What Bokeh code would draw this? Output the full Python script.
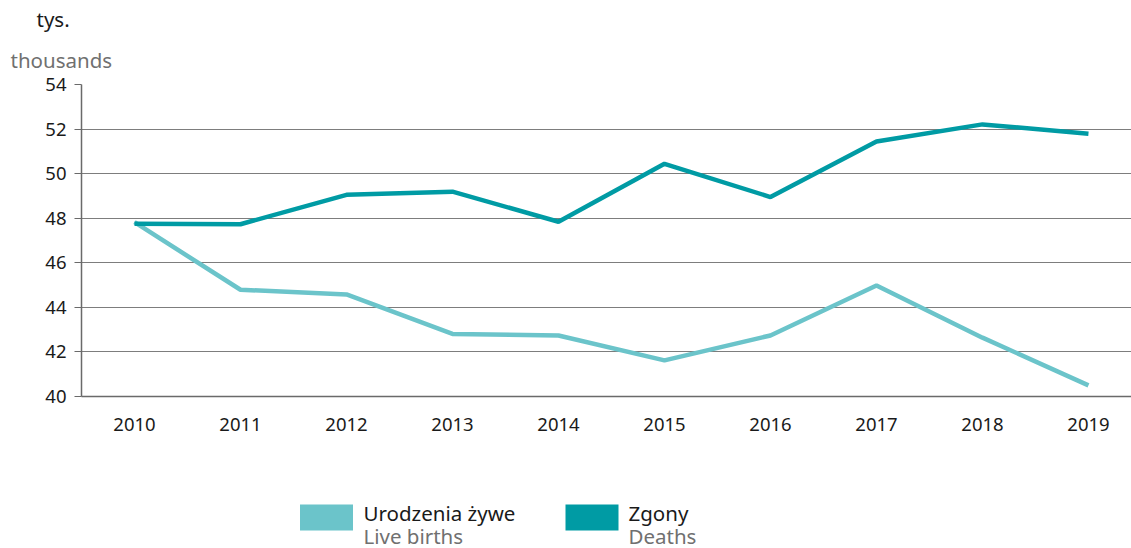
from bokeh.plotting import figure
from bokeh.models import Range1d, FixedTicker, Title
from bokeh.layouts import column
from bokeh.embed import file_html
from bokeh.resources import INLINE
from bokeh.core.properties import value

# ---- data ----
years = [2010, 2011, 2012, 2013, 2014, 2015, 2016, 2017, 2018, 2019]
live_births = [47.82, 44.79, 44.58, 42.81, 42.74, 41.62, 42.74, 44.98, 42.64, 40.50]
deaths = [47.75, 47.73, 49.05, 49.19, 47.84, 50.44, 48.95, 51.44, 52.21, 51.79]
y_ticks = [40, 42, 44, 46, 48, 50, 52, 54]
unit_pl = "tys."
unit_en = "thousands"
series_pl = ["Urodzenia żywe", "Zgony"]
series_en = ["Live births", "Deaths"]
colors = ["#6BC4CA", "#009BA4"]

FONT = "Noto Sans"
TXT = "#1a1a1a"
GREY = "#707070"
W = 1131
LEFT = 81

# ---- main chart ----
p = figure(width=W, height=448, output_backend="svg", toolbar_location=None,
           x_range=Range1d(2009.5, 2019.406), y_range=Range1d(40, 54),
           min_border_left=LEFT, min_border_right=0, min_border_top=84, min_border_bottom=52)
p.outline_line_color = None
p.background_fill_color = "white"
p.border_fill_color = "white"

# unit header as stacked titles (first added sits closest to the frame)
p.add_layout(Title(text=unit_en, align="left", offset=-71, standoff=22,
                   text_font=FONT, text_font_size="20.5px", text_color=GREY,
                   text_font_style="normal"), "above")
p.add_layout(Title(text=unit_pl, align="left", offset=-45, standoff=0,
                   text_font=FONT, text_font_size="20.5px", text_color=TXT,
                   text_font_style="normal"), "above")

p.xgrid.grid_line_color = None
p.ygrid.ticker = FixedTicker(ticks=y_ticks)
p.ygrid.grid_line_color = "#7d7d7d"
p.ygrid.grid_line_width = 1.2

p.yaxis.ticker = FixedTicker(ticks=y_ticks)
p.yaxis.axis_line_color = "#6a6a6a"
p.yaxis.axis_line_width = 1.5
p.yaxis.major_tick_line_color = "#6a6a6a"
p.yaxis.major_tick_line_width = 1.2
p.yaxis.major_tick_out = 7
p.yaxis.major_tick_in = 0
p.yaxis.minor_tick_line_color = None
p.yaxis.major_label_text_font = FONT
p.yaxis.major_label_text_font_size = "18.5px"
p.yaxis.major_label_text_color = TXT
p.yaxis.major_label_standoff = 8

p.xaxis.ticker = FixedTicker(ticks=years)
p.xaxis.axis_line_color = "#6a6a6a"
p.xaxis.axis_line_width = 1.5
p.xaxis.major_tick_line_color = None
p.xaxis.minor_tick_line_color = None
p.xaxis.major_label_text_font = FONT
p.xaxis.major_label_text_font_size = "18.5px"
p.xaxis.major_label_text_color = TXT
p.xaxis.major_label_standoff = 15

p.line(years, live_births, line_color=colors[0], line_width=4.5)
p.line(years, deaths, line_color=colors[1], line_width=4.5)

# ---- legend ----
lg = figure(width=W, height=100, output_backend="svg", toolbar_location=None,
            x_range=Range1d(LEFT, W), y_range=Range1d(0, 100),
            x_axis_location=None, y_axis_location=None,
            min_border=0, min_border_left=LEFT, min_border_right=0,
            min_border_top=0, min_border_bottom=0)
lg.grid.visible = False
lg.outline_line_color = None
lg.background_fill_color = "white"
lg.border_fill_color = "white"

box_x = [326, 591.5]
text_x = [363, 628]
lg.rect(x=box_x, y=[31, 31], width=53, height=26, fill_color=colors, line_color=None)
lg.text(x=text_x, y=[36, 36], text=series_pl, text_font=value(FONT), text_font_size="20.5px",
        text_color=TXT, text_baseline="middle")
lg.text(x=text_x, y=[13, 13], text=series_en, text_font=value(FONT), text_font_size="20.5px",
        text_color=GREY, text_baseline="middle")

layout = column(p, lg, spacing=0)
open("out.html", "w").write(file_html(layout, INLINE))
